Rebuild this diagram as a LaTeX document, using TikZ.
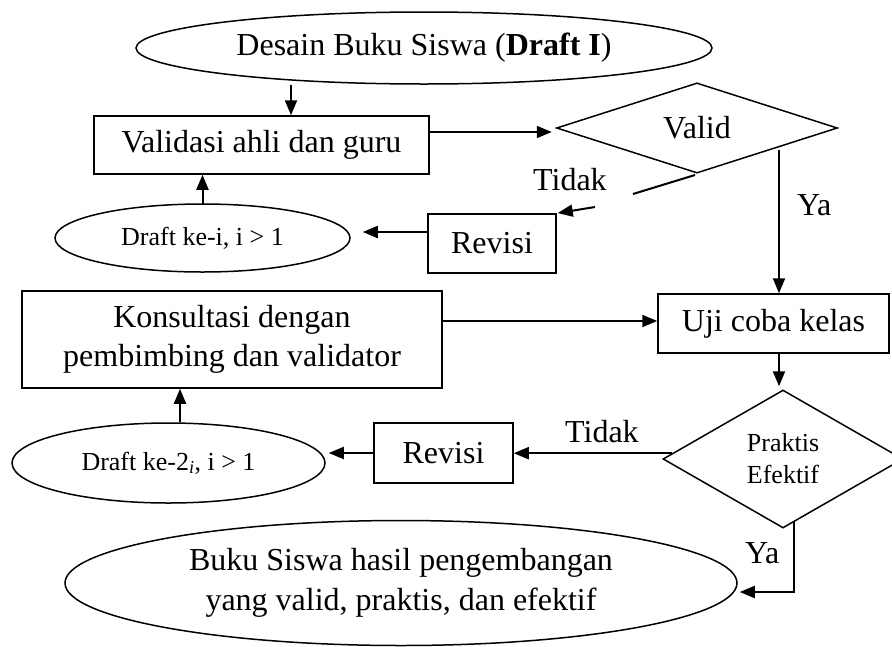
\documentclass[tikz,border=0pt]{standalone}
\usepackage{fontspec}
\setmainfont{Liberation Serif}
\usetikzlibrary{shapes.geometric,arrows.meta}
\begin{document}
\begin{tikzpicture}[x=1pt,y=-1pt,
  big/.style={font=\fontsize{32}{39.5}\selectfont},
  small/.style={font=\fontsize{26}{32}\selectfont},
  box/.style={draw,line width=1.5pt,rectangle,inner sep=0pt,align=center,big},
  ell/.style={draw,line width=1.5pt,ellipse,inner sep=0pt,align=center},
  dec/.style={draw,line width=1.5pt,diamond,inner sep=0pt,align=center},
  arr/.style={line width=2pt,-{Triangle[length=15pt,width=12pt]}},
  seg/.style={line width=2pt},
  lbl/.style={big,anchor=base west,inner sep=0pt}]
\useasboundingbox (0,0) rectangle (892,646);

% shapes
\node[ell,big,minimum width=576pt,minimum height=72pt] (desain) at (424,48) {Desain Buku Siswa (\textbf{Draft I})};
\node[box,minimum width=335pt,minimum height=58pt] (val) at (261.5,145) {Validasi ahli dan guru};
\node[dec,big,minimum width=281pt,minimum height=87pt] (valid) at (697,128) {Valid};
\node[ell,small,minimum width=295pt,minimum height=68pt] (draft1) at (202.5,238) {Draft ke-i, i > 1};
\node[box,minimum width=128pt,minimum height=59pt] (rev1) at (492,243.5) {Revisi};
\node[box,minimum width=420pt,minimum height=97pt] (kons) at (232,339.5) {Konsultasi dengan\\pembimbing dan validator};
\node[box,minimum width=231pt,minimum height=59pt] (uji) at (773.5,323.5) {Uji coba kelas};
\node[ell,small,minimum width=313pt,minimum height=80pt] (draft2) at (168.5,463) {Draft ke-2\textsubscript{\itshape i}, i > 1};
\node[box,minimum width=139pt,minimum height=60pt] (rev2) at (443.5,453) {Revisi};
\node[dec,small,minimum width=240pt,minimum height=138pt] (prak) at (783,459) {Praktis\\Efektif};
\node[ell,big,minimum width=672pt,minimum height=125pt] (hasil) at (401,583) {Buku Siswa hasil pengembangan\\yang valid, praktis, dan efektif};

% labels
\node[lbl] (tidak1) at (533,190) {Tidak};
\node[lbl] (ya1) at (797,215) {Ya};
\node[lbl] (tidak2) at (565,442) {Tidak};
\node[lbl] (ya2) at (745,563) {Ya};

% free-end coordinates
\coordinate (t1) at (695,175);
\coordinate (t2) at (633,194);
\coordinate (t3) at (595,207);
\coordinate (yv) at (779,150);
\coordinate (yb) at (794,522);
\coordinate (pa) at (783,353);

% connectors
\draw[arr] ([xshift=29.5pt]val.north |- desain.south) -- ([xshift=29.5pt]val.north);
\draw[arr,shorten >=4pt] (val.east |- 0,132) -- (valid.west |- 0,132);
\draw[seg] (t1) -- (t2);
\draw[arr,shorten >=1pt] (t3) -- (rev1.north east);
\draw[arr] (yv) -- (yv |- uji.north);
\draw[arr,shorten >=12pt] (rev1.west |- 0,232) -- (draft1.east |- 0,232);
\draw[arr] (draft1.north |- 0,204) -- (draft1.north |- val.south);
\draw[arr] (kons.east |- 0,321) -- (uji.west |- 0,321);
\draw[arr,shorten >=3pt] ([xshift=5.5pt]uji.south) -- ([xshift=5.5pt]uji.south |- prak.north);
\draw[arr] (prak.177) -- (prak.177 -| rev2.east);
\draw[arr,shorten >=3pt] (rev2.west) -- (rev2.west -| draft2.east);
\draw[arr] ([xshift=11.5pt]draft2.north) -- ([xshift=11.5pt]draft2.north |- kons.south);
\draw[arr,shorten >=2pt] (yb) |- ([yshift=-9pt]hasil.east);
\end{tikzpicture}
\end{document}
